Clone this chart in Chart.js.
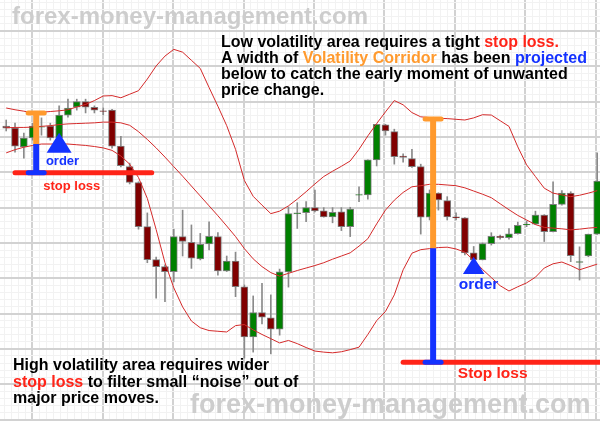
<!DOCTYPE html>
<html>
<head>
<meta charset="utf-8">
<script src="https://cdn.jsdelivr.net/npm/chart.js@4.4.1/dist/chart.umd.min.js"></script>
<style>
  html, body { margin: 0; padding: 0; background: #fff; }
  #wrap { position: relative; width: 600px; height: 421px; }
</style>
</head>
<body>
<div id="wrap"><canvas id="chart"></canvas></div>
<script>
// OHLC per bar (price units, 10 per major grid line)
const opens = [83.1, 82.5, 77.2, 79.7, 82.8, 83.1, 79.7, 86.2, 88.4, 90.0,
  88.4, 87.4, 87.6, 77.4, 71.6, 67.1, 54.6, 45.3, 43.3, 41.9,
  51.8, 50.2, 45.5, 49.7, 51.8, 42.1, 44.9, 37.6, 23.4, 30.3,
  28.8, 25.6, 41.8, 58.3, 58.6, 60.0, 59.1, 57.4, 58.8, 54.6,
  63.5, 63.6, 73.5, 83.4, 81.5, 74.6, 73.9, 71.6, 57.3, 64.1,
  62.0, 57.4, 57.1, 47.2, 45.2, 49.8, 51.9, 51.5, 52.6, 55.1,
  55.3, 57.9, 53.2, 60.9, 64.1, 44.5, 46.3, 52.5];
const highs = [84.8, 83.9, 81.1, 83.9, 85.4, 83.9, 88.8, 90.7, 90.7, 90.7,
  88.8, 88.2, 87.8, 80.2, 72.6, 67.3, 58.5, 46.0, 43.8, 53.9,
  59.3, 55.1, 52.7, 56.0, 52.9, 46.3, 47.4, 38.1, 35.0, 38.6,
  35.3, 42.6, 60.2, 61.4, 61.7, 65.0, 60.0, 60.0, 60.0, 60.1,
  65.9, 73.5, 83.6, 83.6, 82.2, 75.2, 76.5, 72.3, 65.0, 64.2,
  63.1, 58.5, 57.2, 49.0, 50.0, 52.9, 52.2, 54.1, 55.9, 56.2,
  59.0, 58.0, 67.3, 64.8, 64.5, 48.9, 52.5, 75.5];
const lows = [81.7, 75.7, 74.0, 79.1, 80.5, 79.1, 79.1, 85.6, 87.6, 86.8,
  86.8, 86.2, 76.8, 71.5, 66.7, 53.9, 44.4, 34.4, 33.4, 39.0,
  46.3, 42.8, 45.2, 48.0, 40.9, 41.9, 34.8, 17.4, 19.1, 27.1,
  18.6, 23.9, 37.5, 54.1, 56.0, 58.8, 57.3, 55.7, 53.5, 51.8,
  61.7, 62.4, 71.8, 80.5, 72.3, 72.9, 71.4, 52.5, 56.5, 59.3,
  56.5, 56.5, 46.6, 44.6, 45.2, 49.4, 51.1, 51.1, 52.5, 54.6,
  55.2, 50.4, 53.1, 60.7, 44.7, 39.5, 46.1, 52.4];
const closes = [82.5, 77.4, 79.7, 83.1, 82.9, 79.7, 86.2, 88.2, 90.0, 88.4,
  87.6, 87.2, 77.4, 71.9, 67.1, 54.6, 45.3, 43.3, 41.9, 51.8,
  50.4, 45.7, 49.6, 51.9, 42.1, 44.9, 37.6, 23.4, 30.3, 29.0,
  25.6, 41.8, 58.3, 58.5, 60.0, 59.1, 57.4, 58.7, 54.6, 59.6,
  63.7, 73.5, 83.6, 81.7, 74.4, 74.2, 71.6, 57.3, 64.1, 62.2,
  57.4, 57.1, 47.2, 45.2, 49.8, 51.9, 51.5, 52.6, 55.0, 55.3,
  57.9, 53.2, 60.9, 64.1, 46.4, 44.7, 52.5, 67.5];

// volatility corridor bands
const upperBand = [88.2, 87.7, 87.3, 86.8, 87.0, 87.2, 87.4, 87.7, 88.5, 89.2,
  90.3, 91.6, 91.7, 91.1, 92.1, 93.1, 96.4, 100.1, 102.9, 104.8,
  104.0, 101.7, 99.4, 94.0, 88.7, 83.2, 76.5, 67.7, 63.2, 60.7,
  58.3, 59.0, 60.5, 62.4, 64.5, 66.7, 68.8, 70.3, 71.7, 73.2,
  76.5, 80.3, 83.8, 87.1, 90.3, 89.1, 86.9, 85.7, 85.5, 85.3,
  85.2, 85.0, 84.8, 85.4, 86.3, 86.2, 84.6, 83.0, 77.2, 72.1,
  68.8, 65.5, 64.1, 63.6, 63.1, 63.5, 64.1, 64.8];
const middleBand = [82.6, 82.7, 82.7, 82.8, 83.0, 83.2, 83.5, 83.7, 83.8, 83.9,
  84.0, 84.2, 84.2, 84.0, 83.3, 81.5, 79.3, 76.9, 74.3, 71.6,
  68.9, 66.1, 63.3, 60.5, 57.7, 54.8, 51.8, 48.4, 45.5, 43.3,
  41.6, 40.6, 41.4, 42.2, 42.9, 43.6, 44.4, 45.4, 46.3, 47.2,
  49.1, 51.2, 55.4, 59.3, 62.1, 64.3, 65.9, 66.2, 66.6, 66.6,
  66.4, 66.2, 65.6, 64.7, 63.8, 62.8, 61.1, 59.4, 57.8, 56.5,
  55.2, 54.4, 54.2, 54.0, 53.7, 53.9, 54.2, 54.4];
const lowerBand = [75.5, 76.4, 77.1, 77.6, 78.0, 78.0, 78.0, 78.0, 77.8, 77.6,
  77.3, 76.9, 76.2, 74.6, 72.3, 68.5, 62.6, 53.8, 44.4, 37.3,
  31.9, 27.9, 26.0, 25.2, 25.0, 24.8, 26.6, 26.9, 25.4, 24.1,
  22.9, 21.7, 22.4, 21.5, 20.4, 19.4, 19.1, 18.9, 19.2, 19.8,
  20.5, 24.1, 28.0, 30.6, 35.3, 42.4, 47.1, 48.1, 48.4, 48.7,
  48.8, 48.3, 47.4, 45.1, 42.5, 40.2, 37.9, 36.4, 37.6, 38.7,
  40.3, 42.9, 44.1, 44.6, 43.6, 42.4, 43.2, 44.0];

// corridor width (orange) and the same distance projected below (blue)
const corridorBars = [
  { bar: 3.4, top: 86.8, edge: 78.0, stop: 69.9 },
  { bar: 48.4, top: 85.1, edge: 48.5, stop: 16.2 }
];
// stop loss levels with their labels
const stopLevels = [
  { from: 1.0, to: 16.5, level: 69.9, text: 'stop loss', textBar: 4.2, textLevel: 65.0, size: 13 },
  { from: 45.0, to: 67.4, level: 16.2, text: 'Stop loss', textBar: 51.2, textLevel: 11.7, size: 15.5 }
];
// entry points
const orderMarks = [
  { bar: 6, tip: 81.2, base: 75.5, textBar: 4.5, textLevel: 72.0, size: 13 },
  { bar: 53, tip: 46.1, base: 41.2, textBar: 51.3, textLevel: 36.9, size: 15.5 }
];

const GREEN = '#008000';
const DARK_RED = '#800000';
const ORANGE = '#ff9a2e';
const BLUE = '#1432ff';
const RED = '#ff2418';
const FONT = '"Liberation Sans", Arial, sans-serif';
const MAJOR = '#d2d2d2', MINOR = '#f2f2f2';

const bars = opens.map((_, i) => i);

function gridTicks(min, max, origin, step) {
    const out = [];
    let v = origin - Math.ceil((origin - min) / step) * step;
    for (; v <= max + 1e-9; v += step) out.push({ value: +v.toFixed(4) });
    return out;
}

function drawRich(ctx, parts, x, y) {
    let cx = x;
    parts.forEach(([txt, color]) => {
        ctx.fillStyle = color;
        ctx.fillText(txt, cx, y);
        cx += ctx.measureText(txt).width;
    });
}

const overlay = {
    id: 'overlay',
    afterDatasetsDraw(chart) {
        const { ctx } = chart;
        const xs = chart.scales.x, ys = chart.scales.y;
        const px = v => xs.getPixelForValue(v);
        const py = v => ys.getPixelForValue(v);
        ctx.save();
        ctx.lineCap = 'round';

        // watermarks
        ctx.fillStyle = '#cdcdcd';
        ctx.font = 'bold 24px ' + FONT;
        ctx.fillText('forex-money-management.com', 12, 24);
        ctx.font = 'bold 27px ' + FONT;
        ctx.fillText('forex-money-management.com', 190, 413);

        // stop loss lines
        stopLevels.forEach(s => {
            ctx.strokeStyle = RED;
            ctx.lineWidth = 5;
            ctx.beginPath();
            ctx.moveTo(px(s.from), py(s.level));
            ctx.lineTo(px(s.to), py(s.level));
            ctx.stroke();
            ctx.fillStyle = RED;
            ctx.font = 'bold ' + s.size + 'px ' + FONT;
            ctx.fillText(s.text, px(s.textBar), py(s.textLevel));
        });

        // corridor width + projection
        corridorBars.forEach(c => {
            const x = px(c.bar);
            ctx.lineWidth = 6;
            ctx.lineCap = 'butt';
            ctx.strokeStyle = ORANGE;
            ctx.beginPath(); ctx.moveTo(x, py(c.top)); ctx.lineTo(x, py(c.edge)); ctx.stroke();
            ctx.strokeStyle = BLUE;
            ctx.beginPath(); ctx.moveTo(x, py(c.edge)); ctx.lineTo(x, py(c.stop)); ctx.stroke();
            ctx.lineCap = 'round';
            ctx.lineWidth = 5;
            ctx.strokeStyle = ORANGE;
            ctx.beginPath(); ctx.moveTo(x - 8, py(c.top)); ctx.lineTo(x + 8, py(c.top)); ctx.stroke();
            ctx.strokeStyle = BLUE;
            ctx.beginPath(); ctx.moveTo(x - 8, py(c.stop)); ctx.lineTo(x + 8, py(c.stop)); ctx.stroke();
        });

        // order arrows
        orderMarks.forEach(o => {
            const x = px(o.bar);
            const half = (py(o.base) - py(o.tip)) * 0.62;
            ctx.fillStyle = BLUE;
            ctx.beginPath();
            ctx.moveTo(x, py(o.tip));
            ctx.lineTo(x + half, py(o.base));
            ctx.lineTo(x - half, py(o.base));
            ctx.closePath();
            ctx.fill();
            ctx.font = 'bold ' + o.size + 'px ' + FONT;
            ctx.fillText('order', px(o.textBar), py(o.textLevel));
        });

        // notes
        ctx.font = 'bold 16px ' + FONT;
        const K = '#000';
        drawRich(ctx, [['Low volatility area requires a tight ', K], ['stop loss.', RED]], 221, 47);
        drawRich(ctx, [['A width of ', K], ['Volatility Corridor', ORANGE], [' has been ', K], ['projected', BLUE]], 221, 63);
        drawRich(ctx, [['below to catch the early moment of unwanted', K]], 221, 79);
        drawRich(ctx, [['price change.', K]], 221, 95);

        drawRich(ctx, [['High volatility area requires wider', K]], 13, 370);
        drawRich(ctx, [['stop loss', RED], [' to filter small \u201cnoise\u201d out of', K]], 13, 386.5);
        drawRich(ctx, [['major price moves.', K]], 13, 403);
        ctx.restore();
    }
};

// major lines every 8 bars / 10 price units, faint lines every ~7px between
function isMajor(v, origin, step) {
    const k = (v - origin) / step;
    return Math.abs(k - Math.round(k)) < 0.01;
}

const xGrid = {
    drawTicks: false,
    color: c => c.tick && isMajor(c.tick.value, 3.38, 7.98) ? MAJOR : MINOR,
    lineWidth: c => c.tick && isMajor(c.tick.value, 3.38, 7.98) ? 2 : 1
};
const yGrid = {
    drawTicks: false,
    color: c => c.tick && isMajor(c.tick.value, 0, 10) ? MAJOR : MINOR,
    lineWidth: c => c.tick && isMajor(c.tick.value, 0, 10) ? 2 : 1
};

new Chart(document.getElementById('chart'), {
    type: 'bar',
    data: {
        datasets: [
            { type: 'line', data: bars.map(i => ({ x: i, y: upperBand[i] })), borderColor: '#d42a2a', borderWidth: 1, pointRadius: 0, order: 0 },
            { type: 'line', data: bars.map(i => ({ x: i, y: middleBand[i] })), borderColor: '#d42a2a', borderWidth: 1, pointRadius: 0, order: 0 },
            { type: 'line', data: bars.map(i => ({ x: i, y: lowerBand[i] })), borderColor: '#d42a2a', borderWidth: 1, pointRadius: 0, order: 0 },
            {
                // candle bodies
                data: bars.map(i => ({ x: i, y: [opens[i], closes[i]] })),
                backgroundColor: bars.map(i => closes[i] >= opens[i] ? GREEN : DARK_RED),
                borderColor: '#7c7c7c',
                borderWidth: 1,
                borderSkipped: false,
                barThickness: 7,
                grouped: false,
                order: 1
            },
            {
                // wicks
                data: bars.map(i => ({ x: i, y: [lows[i], highs[i]] })),
                backgroundColor: '#8a8a8a',
                barThickness: 1,
                grouped: false,
                order: 2
            }
        ]
    },
    options: {
        responsive: true,
        maintainAspectRatio: false,
        animation: false,
        layout: { padding: 0 },
        plugins: { legend: { display: false }, tooltip: { enabled: false } },
        scales: {
            x: {
                type: 'linear',
                min: -0.703,
                max: 67.32,
                offset: false,
                afterBuildTicks: s => { s.ticks = gridTicks(s.min, s.max, 3.38, 7.98 / 10); },
                ticks: { display: false },
                border: { display: false },
                grid: xGrid
            },
            y: {
                min: -0.4,
                max: 118.77,
                afterBuildTicks: s => { s.ticks = gridTicks(s.min, s.max, 0, 2); },
                ticks: { display: false },
                border: { display: false },
                grid: yGrid
            }
        }
    },
    plugins: [overlay]
});
</script>
</body>
</html>
